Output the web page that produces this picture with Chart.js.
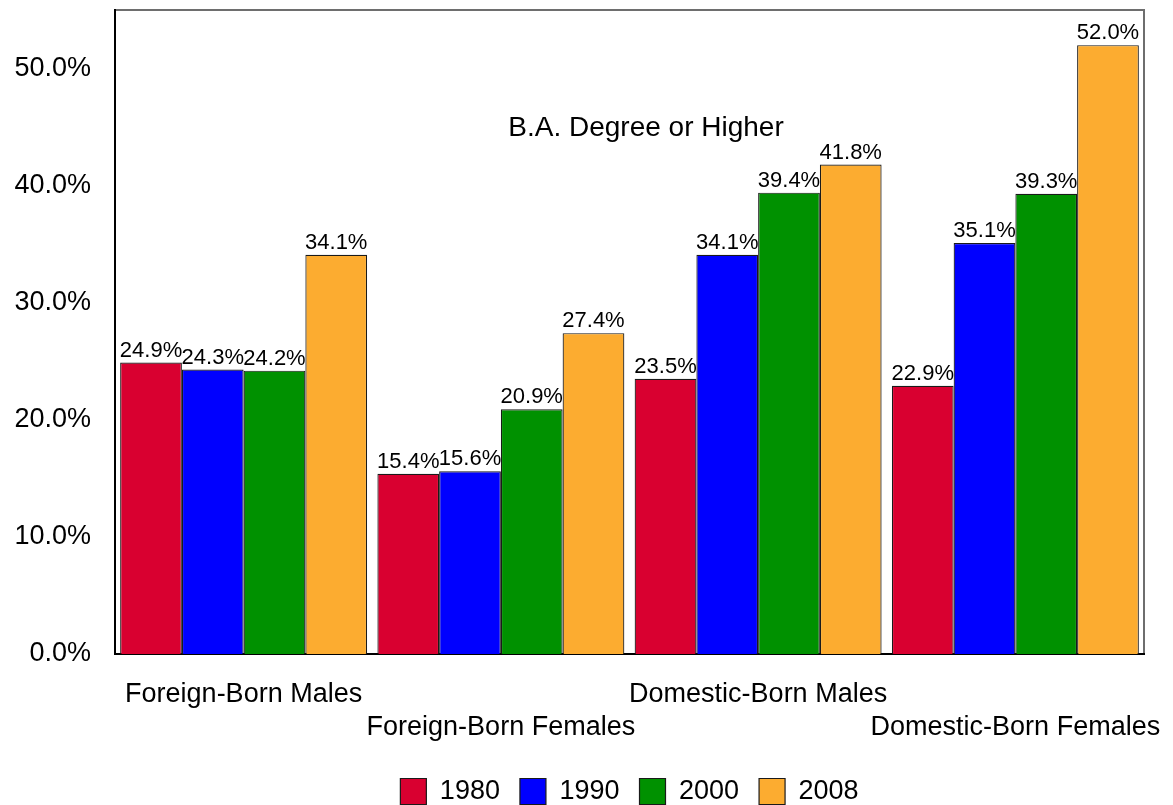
<!DOCTYPE html>
<html>
<head>
<meta charset="utf-8">
<script src="https://cdn.jsdelivr.net/npm/chart.js@4/dist/chart.umd.min.js"></script>
<style>
  html, body { margin: 0; padding: 0; background: #fff; }
  #wrap { width: 1173px; height: 805px; }
</style>
</head>
<body>
<div id="wrap"><canvas id="baChart" width="1173" height="805"></canvas></div>
<script>
// data
const categories = ['Foreign-Born Males', 'Foreign-Born Females', 'Domestic-Born Males', 'Domestic-Born Females'];
const years = ['1980', '1990', '2000', '2008'];
const values1980 = [24.9, 15.4, 23.5, 22.9];
const values1990 = [24.3, 15.6, 34.1, 35.1];
const values2000 = [24.2, 20.9, 39.4, 39.3];
const values2008 = [34.1, 27.4, 41.8, 52.0];
const yTicks = [0, 10, 20, 30, 40, 50];
const chartTitle = 'B.A. Degree or Higher';

const colors = ['rgb(217, 0, 48)', 'rgb(0, 0, 255)', 'rgb(0, 145, 0)', 'rgb(252, 172, 48)'];
const fontName = '"Liberation Sans", Arial, sans-serif';

// gray frame round the plot, then the axes are drawn over it
const framePlugin = {
    id: 'frame',
    beforeDraw(chart) {
        const a = chart.chartArea;
        const ctx = chart.ctx;
        ctx.save();
        ctx.strokeStyle = '#6e6e6e';
        ctx.lineWidth = 2;
        ctx.strokeRect(a.left, a.top, a.right - a.left, a.bottom - a.top);
        ctx.restore();
    }
};

// legend is centred under the plot, not under the whole canvas
const legendShift = {
    id: 'legendShift',
    afterLayout(chart) {
        const lg = chart.legend;
        const a = chart.chartArea;
        const dx = (a.left + a.right) / 2 - (lg.left + lg.right) / 2;
        lg.left += dx;
        lg.right += dx;
    }
};

// value above each bar + the title inside the plot
const labelsPlugin = {
    id: 'barLabels',
    afterDatasetsDraw(chart) {
        const ctx = chart.ctx;
        ctx.save();
        ctx.fillStyle = '#000';
        ctx.font = '22px ' + fontName;
        ctx.textAlign = 'center';
        ctx.textBaseline = 'bottom';
        chart.data.datasets.forEach(function(ds, i) {
            const meta = chart.getDatasetMeta(i);
            meta.data.forEach(function(bar, j) {
                ctx.fillText(ds.data[j].toFixed(1) + '%', bar.x, bar.y - 1);
            });
        });

        const a = chart.chartArea;
        ctx.font = '28px ' + fontName;
        ctx.textBaseline = 'middle';
        ctx.fillText(chartTitle, a.left + 531, a.top + 118);
        ctx.restore();
    }
};

const allValues = [values1980, values1990, values2000, values2008];
const datasets = years.map(function(y, i) {
    return {
        label: y,
        data: allValues[i],
        backgroundColor: colors[i],
        borderColor: '#1a1a1a',
        borderWidth: 1.2,
        categoryPercentage: 0.96,
        barPercentage: 1.0
    };
});

new Chart(document.getElementById('baChart'), {
    type: 'bar',
    data: { labels: categories, datasets: datasets },
    plugins: [framePlugin, legendShift, labelsPlugin],
    options: {
        responsive: false,
        animation: false,
        layout: { padding: { left: 8, right: 29, top: 10, bottom: -10 } },
        plugins: {
            legend: {
                position: 'bottom',
                labels: {
                    boxWidth: 26,
                    boxHeight: 26,
                    padding: 20,
                    color: '#000',
                    font: { family: fontName, size: 27 }
                }
            },
            tooltip: { enabled: false }
        },
        scales: {
            x: {
                grid: { display: false, drawTicks: false },
                border: { display: true, color: '#000', width: 2 },
                ticks: {
                    autoSkip: false,
                    maxRotation: 0,
                    padding: 24,
                    color: '#000',
                    font: { family: fontName, size: 27, lineHeight: 1.22 },
                    callback: function(v, i) {
                        return i % 2 === 0 ? [categories[i], ''] : ['', categories[i]];
                    }
                },
                afterFit: function(scale) {
                    scale.height = 104;
                    // let the long end labels run past the plot edges
                    scale.paddingLeft = 0;
                    scale.paddingRight = 0;
                }
            },
            y: {
                min: 0,
                max: 55,
                afterBuildTicks: function(scale) {
                    scale.ticks = yTicks.map(function(v) { return { value: v }; });
                },
                grid: { display: false, drawTicks: false },
                border: { display: true, color: '#000', width: 2 },
                ticks: {
                    padding: 24,
                    color: '#000',
                    font: { family: fontName, size: 27 },
                    callback: function(v) { return v.toFixed(1) + '%'; }
                },
                afterFit: function(scale) {
                    scale.width = 107;
                    scale.paddingTop = 0;
                    scale.paddingBottom = 0;
                }
            }
        }
    }
});
</script>
</body>
</html>
